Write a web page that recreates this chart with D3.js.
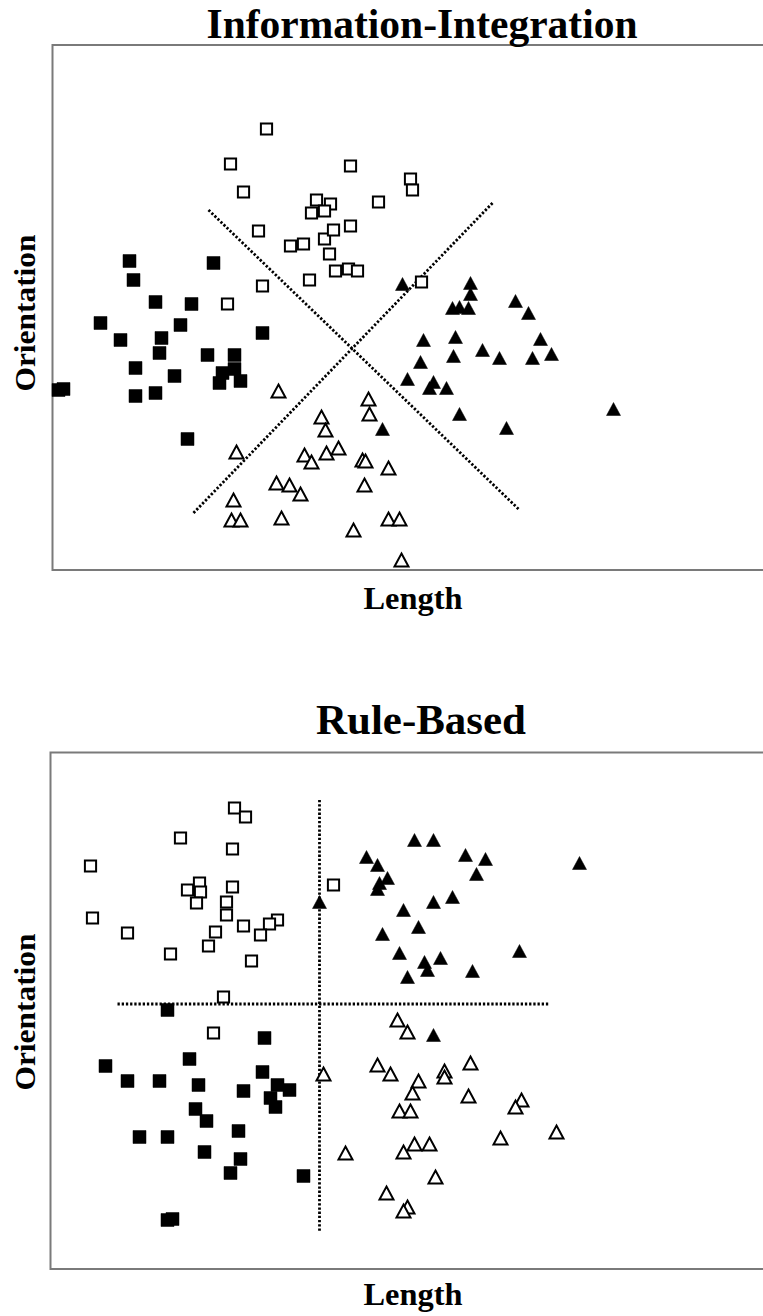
<!DOCTYPE html>
<html>
<head>
<meta charset="utf-8">
<script src="https://cdn.jsdelivr.net/npm/d3@7"></script>
<style>
  html, body { margin: 0; padding: 0; background: #fff; }
  svg { display: block; }
  text { font-family: "Liberation Serif", "Times New Roman", serif; font-weight: bold; fill: #000; }
</style>
</head>
<body>
<svg id="chart" width="763" height="1316"></svg>
<script>
// ---------- DATA (Length, Orientation in arbitrary stimulus units) ----------
const panelTitles = ["Information-Integration", "Rule-Based"];
const xAxisLabel = "Length";
const yAxisLabel = "Orientation";

// Information-Integration panel
const iiOpenSquares = [[214,441],[178,406],[191,378],[264,370],[278,366],[259,357],[272,359],[206,339],[238,324],[251,326],[272,331],[281,340],[277,316],[283,299],[257,290],[210,284],[175,266],[298,404],[358,391],[360,380],[326,368],[298,344],[296,301],[305,299],[369,288]];
const iiFilledSquares = [[77,309],[81,290],[103,268],[139,266],[161,307],[48,247],[68,230],[128,245],[109,232],[210,237],[107,217],[155,215],[182,215],[83,202],[122,194],[170,197],[182,201],[167,187],[188,189],[6,180],[11,181],[83,174],[103,177],[135,131]];
const iiFilledTriangles = [[350,286],[418,287],[418,276],[400,262],[407,263],[416,262],[463,269],[476,257],[371,230],[403,233],[430,220],[447,212],[488,231],[480,212],[499,216],[368,208],[401,214],[355,191],[381,188],[377,182],[394,182],[561,161],[407,156],[454,142],[330,141]];
const iiOpenTriangles = [[226,179],[269,153],[273,140],[184,118],[252,115],[259,108],[274,117],[286,122],[224,87],[237,85],[248,76],[181,70],[179,50],[188,50],[229,52],[316,171],[317,156],[310,110],[313,109],[336,102],[312,85],[336,51],[347,51],[301,40],[349,10]];
const iiBounds = [[[156,360],[466,61]], [[141,57],[440,367]]];

// Rule-Based panel
const rbOpenSquares = [[184,461],[195,452],[130,431],[182,420],[40,403],[149,386],[137,379],[150,377],[182,382],[283,384],[146,366],[176,367],[176,354],[42,351],[77,336],[165,337],[193,343],[227,349],[219,345],[210,334],[158,323],[120,315],[201,308],[173,272],[163,236]];
const rbFilledTriangles = [[364,429],[383,429],[316,412],[327,404],[337,391],[329,386],[327,380],[415,414],[435,410],[426,395],[529,406],[269,367],[383,367],[402,372],[353,359],[368,342],[332,335],[349,316],[374,307],[377,299],[390,311],[357,292],[422,298],[469,318],[383,234]];
const rbFilledSquares = [[117,259],[214,231],[139,210],[55,203],[77,188],[109,188],[148,184],[193,178],[212,197],[227,184],[239,179],[220,171],[225,162],[145,160],[156,148],[188,138],[89,132],[117,132],[154,117],[190,110],[180,96],[253,93],[117,49],[122,50]];
const rbOpenTriangles = [[347,249],[357,237],[273,195],[327,204],[340,195],[420,206],[394,198],[394,192],[368,188],[362,176],[418,173],[471,169],[465,162],[349,158],[360,158],[506,137],[450,131],[364,125],[379,125],[353,117],[295,116],[385,92],[336,76],[357,62],[353,58]];
const rbBounds = [[[269,469],[269,38]], [[67,265],[499,265]]];

// ---------- DRAWING ----------
const svg = d3.select("#chart");

const panels = [
  { title: panelTitles[0], left: 52.5, top: 45, bottom: 570, titleY: 38, titleW: 431, titleX: 422,
    labelY: 609, orientY: 313,
    series: [
      { data: iiOpenSquares, shape: "square", filled: false },
      { data: iiFilledSquares, shape: "square", filled: true },
      { data: iiFilledTriangles, shape: "triangle", filled: true },
      { data: iiOpenTriangles, shape: "triangle", filled: false }
    ], bounds: iiBounds },
  { title: panelTitles[1], left: 50.5, top: 752.5, bottom: 1269, titleY: 734, titleW: 210, titleX: 421,
    labelY: 1305, orientY: 1012,
    series: [
      { data: rbOpenSquares, shape: "square", filled: false },
      { data: rbFilledSquares, shape: "square", filled: true },
      { data: rbFilledTriangles, shape: "triangle", filled: true },
      { data: rbOpenTriangles, shape: "triangle", filled: false }
    ], bounds: rbBounds }
];

const triW = 14, triH = 13;
const triPath = `M0,${-triH/2}L${triW/2},${triH/2}L${-triW/2},${triH/2}Z`;

panels.forEach(p => {
  const h = p.bottom - p.top;
  const x = d3.scaleLinear().domain([0, 711]).range([p.left, p.left + 711]);
  const y = d3.scaleLinear().domain([0, h]).range([p.bottom, p.top]);
  const g = svg.append("g");

  // frame
  g.append("rect")
    .attr("x", p.left).attr("y", p.top)
    .attr("width", 800).attr("height", h)
    .attr("fill", "none").attr("stroke", "#7a7a7a").attr("stroke-width", 2);

  // decision bounds
  g.selectAll("line.bound").data(p.bounds).join("line")
    .attr("class", "bound")
    .attr("x1", d => x(d[0][0])).attr("y1", d => y(d[0][1]))
    .attr("x2", d => x(d[1][0])).attr("y2", d => y(d[1][1]))
    .attr("stroke", "#000").attr("stroke-width", 2.8)
    .attr("stroke-dasharray", "2.3,1.9");

  // points
  p.series.forEach(s => {
    g.append("g").selectAll("path").data(s.data).join("path")
      .attr("transform", d => `translate(${x(d[0])},${y(d[1])})`)
      .attr("d", s.shape === "square"
        ? (s.filled ? `M${-6.5},${-6.5}h13v13h-13Z` : `M${-5.6},${-5.6}h11.2v11.2h-11.2Z`)
        : triPath)
      .attr("fill", s.filled ? "#000" : "#fff")
      .attr("stroke", "#000")
      .attr("stroke-width", s.filled ? 0.5 : 2)
      .attr("stroke-linejoin", "miter");
  });

  // title
  svg.append("text")
    .attr("x", p.titleX).attr("y", p.titleY)
    .attr("text-anchor", "middle")
    .attr("font-size", 42)
    .attr("textLength", p.titleW).attr("lengthAdjust", "spacingAndGlyphs")
    .text(p.title);

  // x label
  svg.append("text")
    .attr("x", 413).attr("y", p.labelY)
    .attr("text-anchor", "middle")
    .attr("font-size", 31)
    .attr("textLength", 99).attr("lengthAdjust", "spacingAndGlyphs")
    .text(xAxisLabel);

  // y label
  svg.append("text")
    .attr("transform", `translate(35,${p.orientY}) rotate(-90)`)
    .attr("text-anchor", "middle")
    .attr("font-size", 30)
    .attr("textLength", 157).attr("lengthAdjust", "spacingAndGlyphs")
    .text(yAxisLabel);
});
</script>
</body>
</html>
